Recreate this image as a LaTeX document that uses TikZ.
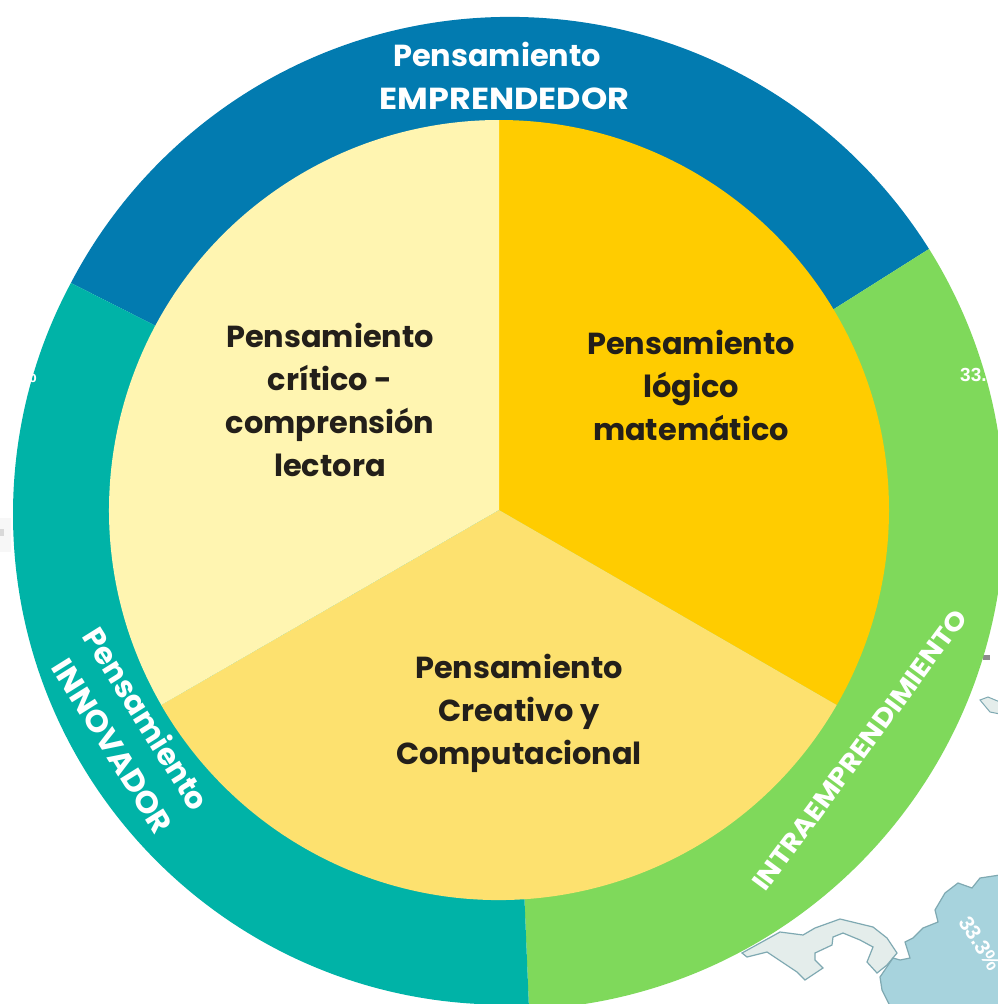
\documentclass[tikz,border=0pt]{standalone}
\usepackage{fontspec}
\setmainfont{Poppins}[BoldFont={Poppins Bold}]
\newfontfamily\capf{Poppins Bold}[FakeStretch=1.1]
\newfontfamily\capn{Poppins Bold}[FakeStretch=1.05]
\newfontfamily\pctfont{Liberation Sans}
\definecolor{blueR}{HTML}{027BB0}
\definecolor{greenR}{HTML}{7FD95B}
\definecolor{tealR}{HTML}{00B3A7}
\definecolor{goldP}{HTML}{FFCC00}
\definecolor{paleP}{HTML}{FFF5B1}
\definecolor{midP}{HTML}{FDE16F}
\definecolor{inkP}{HTML}{231F1A}
\definecolor{mapB}{HTML}{A7D3DD}
\definecolor{mapE}{HTML}{7FA9B2}
\definecolor{mapG}{HTML}{E4EDEB}
\tikzset{x=1pt,y=-1pt,
 darklabel/.style={font=\fontsize{30.4}{43}\selectfont\bfseries,text=inkP,align=center,inner sep=0pt},
 ringlabel/.style={font=\fontsize{30.4}{43}\selectfont\bfseries,text=white,align=center,inner sep=0pt},
 pct/.style={font=\pctfont\bfseries\fontsize{19}{21}\selectfont,text=white,inner sep=0pt}}
\begin{document}
\begin{tikzpicture}
\useasboundingbox (0,0) rectangle (998,1004);
\begin{scope}
\clip (0,0) rectangle (998,1004);
\fill[white] (0,0) rectangle (998,1004);
% map fragments
\draw[mapE,fill=mapG,line width=1.2pt] (742,953) -- (780,932) -- (803,935) -- (815,928) -- (840,919) -- (873,927) -- (887,938) -- (897,953) -- (887,965) -- (877,973) -- (867,962) -- (873,947) -- (860,940) -- (843,933) -- (833,937) -- (832,945) -- (815,953) -- (815,960) -- (823,968) -- (805,980) -- (797,972) -- (782,962) -- (767,952) -- (747,957) -- cycle;
\draw[mapE,fill=mapB,line width=1.2pt] (890,1006) -- (882,990) -- (880,977) -- (893,958) -- (900,960) -- (910,958) -- (905,942) -- (913,938) -- (923,928) -- (938,922) -- (935,910) -- (945,893) -- (958,883) -- (972,888) -- (980,878) -- (1000,875) -- (1000,1006) -- cycle;
\fill[mapG,draw=mapE,line width=1pt] (980,700) -- (988,697) -- (1000,702) -- (1000,714) -- (990,712) -- cycle;
\fill[black!45] (983,655) rectangle (990,660);
\fill[black!3] (0,518) rectangle (11,552);
\fill[black!15] (0,529) rectangle (4,536);
\node[pct,font=\pctfont\bfseries\fontsize{21}{23}\selectfont,rotate=-58,anchor=west] (pctmap) at (964,918) {33.3\%};
% outer ring sectors
\begin{scope}
\clip (499,510) -- (834,309) -- (929,249) -- (929,-200) -- (-100,-200) -- (-100,-10) -- (71,283) -- (154,325) -- cycle;
\fill[blueR] (509.7,511.6) circle (494.7);
\end{scope}
\begin{scope}
\clip (499,510) -- (834,309) -- (929,249) -- (1300,100) -- (1300,1300) -- (541,1300) -- (524.5,900) -- cycle;
\fill[greenR] (507,512.5) circle (497.5);
\end{scope}
\begin{scope}
\clip (499,510) -- (154,325) -- (71,283) -- (-300,100) -- (-300,1300) -- (541,1300) -- (524.5,900) -- cycle;
\fill[tealR] (503.3,514.3) circle (490.3);
\end{scope}
% inner pie
\fill[goldP] (499,510) -- (499,120) arc[start angle=-90,end angle=30,radius=390] -- cycle;
\fill[midP] (499,510) -- (836.7,705) arc[start angle=30,end angle=150,radius=390] -- cycle;
\fill[paleP] (499,510) -- (161.3,705) arc[start angle=150,end angle=270,radius=390] -- cycle;
\node[pct,anchor=west] (pctr) at (960,375) {33.3\%};
\node[pct,anchor=east] (pctl) at (37,376) {33.3\%};
\node[darklabel] (crit) at (330,400) {Pensamiento\\crítico -\\comprensión\\lectora};
\node[darklabel] (logi) at (691,385) {Pensamiento\\lógico\\matemático};
\node[darklabel] (crea) at (519,713.5) {Pensamiento\\Creativo y\\Computacional};
\node[ringlabel] (empr) at (504.5,76) {Pensamiento\hspace*{15pt}\\{\mdseries\capf EMPRENDEDOR}};
\node[ringlabel,rotate=-58] (inno) at (129,730) {Pensamiento\\\hspace*{10pt}{\mdseries\capn INNOVADOR}};
\node[ringlabel,rotate=53.5,font=\fontsize{26}{30}\selectfont] (intra) at (860,750) {\capf INTRAEMPRENDIMIENTO};
\end{scope}
\end{tikzpicture}
\end{document}
